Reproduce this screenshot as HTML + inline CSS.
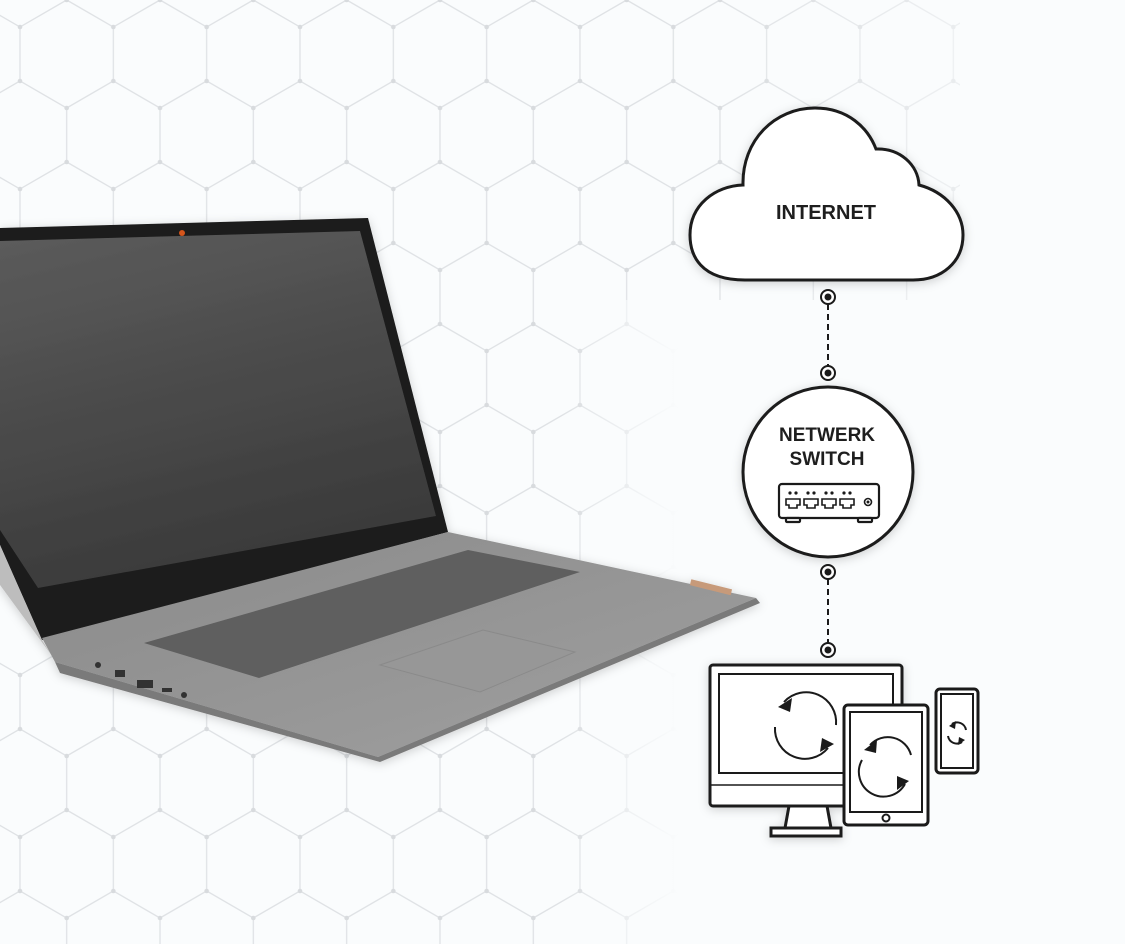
<!DOCTYPE html>
<html><head><meta charset="utf-8"><style>
html,body{margin:0;padding:0;background:#fafcfd;}
svg{display:block}
</style></head><body>
<svg width="1125" height="944" viewBox="0 0 1125 944" xmlns="http://www.w3.org/2000/svg">
<defs>
<pattern id="hex" x="20" y="27" width="93.33" height="162" patternUnits="userSpaceOnUse">
<g stroke="#dfe2e5" stroke-width="1.3" fill="none">
<path d="M0 0 L0 54 L46.67 81 L46.67 135 M46.67 81 L93.33 54 L93.33 0 M46.67 135 L0 162 M46.67 135 L93.33 162 M0 0 L46.67 -27 M93.33 0 L46.67 -27"/>
</g>
<g fill="#d8dbde"><circle cx="0" cy="0" r="2.3"/><circle cx="0" cy="54" r="2.3"/><circle cx="46.67" cy="81" r="2.3"/><circle cx="46.67" cy="135" r="2.3"/><circle cx="93.33" cy="0" r="2.3"/><circle cx="93.33" cy="54" r="2.3"/><circle cx="0" cy="162" r="2.3"/><circle cx="93.33" cy="162" r="2.3"/></g>
</pattern>
<linearGradient id="fadeR" x1="0" y1="0" x2="1" y2="0">
<stop offset="0" stop-color="#fafcfd" stop-opacity="0"/>
<stop offset="1" stop-color="#fafcfd" stop-opacity="1"/>
</linearGradient>
<linearGradient id="scr" x1="0" y1="0" x2="0.3" y2="1">
<stop offset="0" stop-color="#5c5c5c"/><stop offset="1" stop-color="#3a3a3a"/>
</linearGradient>
<linearGradient id="base" x1="0" y1="0" x2="1" y2="1">
<stop offset="0" stop-color="#8a8a8a"/><stop offset="1" stop-color="#a0a0a0"/>
</linearGradient>
<filter id="sh" x="-20%" y="-20%" width="140%" height="140%"><feDropShadow dx="0" dy="2" stdDeviation="5" flood-color="#000" flood-opacity="0.18"/></filter>
</defs>
<rect width="1125" height="944" fill="#fafcfd"/>
<rect width="1125" height="944" fill="url(#hex)"/>
<rect x="560" y="300" width="120" height="644" fill="url(#fadeR)"/>
<rect x="680" y="300" width="445" height="644" fill="#fafcfd"/>
<rect x="700" y="0" width="300" height="300" fill="url(#fadeR)" opacity="0.6"/>
<rect x="960" y="0" width="165" height="944" fill="#fafcfd"/>

<!-- laptop -->
<g filter="url(#sh)">
<polygon points="0,228 368,218 448,532 42,640 0,545" fill="#1a1a1a"/>
<polygon points="0,241 360,231 436,516 38,588 0,530" fill="url(#scr)"/>
<polygon points="0,545 42,640 52,656 0,585" fill="#bdbdbd"/>
<polygon points="42,638 448,532 756,598 378,757 55,662" fill="url(#base)"/>
<polygon points="55,662 378,757 756,598 760,603 380,762 60,673" fill="#7a7a7a"/>
<polygon points="144,643 468,550 580,572 259,678" fill="#5e5e5e"/>
<polygon points="380,665 483,630 575,652 480,692" fill="#979797" stroke="#8a8a8a"/>
<circle cx="182" cy="233" r="3" fill="#d4541a"/>
<rect x="115" y="670" width="10" height="7" fill="#333"/><rect x="137" y="680" width="16" height="8" fill="#333"/><rect x="162" y="688" width="10" height="4" fill="#333"/>
<circle cx="98" cy="665" r="3" fill="#333"/><circle cx="184" cy="695" r="3" fill="#333"/>
<rect x="690" y="584" width="42" height="6" fill="#c79a7a" transform="rotate(14 710 587)"/>
</g>

<!-- cloud -->
<g filter="url(#sh)">
<path d="M745 280 C700 280 690 255 690 235 C690 205 715 186 743 185 C742 140 775 108 815 108 C848 108 868 128 876 149 C900 148 918 165 919 185 C945 192 963 212 963 235 C963 262 942 280 913 280 Z" fill="#fff" stroke="#1a1a1a" stroke-width="3"/>
</g>
<text x="826" y="219" text-anchor="middle" font-family="Liberation Sans, sans-serif" font-weight="bold" font-size="20" fill="#1e1e1e">INTERNET</text>

<!-- connectors -->
<g stroke="#1a1a1a" stroke-width="2" fill="none">
<line x1="828" y1="304" x2="828" y2="366" stroke-dasharray="6 4"/>
<line x1="828" y1="579" x2="828" y2="643" stroke-dasharray="6 4"/>
<circle cx="828" cy="297" r="7" fill="#fff"/><circle cx="828" cy="373" r="7" fill="#fff"/>
<circle cx="828" cy="572" r="7" fill="#fff"/><circle cx="828" cy="650" r="7" fill="#fff"/>
</g>
<g fill="#1a1a1a"><circle cx="828" cy="297" r="3.5"/><circle cx="828" cy="373" r="3.5"/><circle cx="828" cy="572" r="3.5"/><circle cx="828" cy="650" r="3.5"/></g>

<!-- switch -->
<g filter="url(#sh)"><circle cx="828" cy="472" r="85" fill="#fff" stroke="#1a1a1a" stroke-width="3"/></g>
<text x="827" y="441" text-anchor="middle" font-family="Liberation Sans, sans-serif" font-weight="bold" font-size="19" fill="#1e1e1e">NETWERK</text>
<text x="827" y="465" text-anchor="middle" font-family="Liberation Sans, sans-serif" font-weight="bold" font-size="19" fill="#1e1e1e">SWITCH</text>
<g stroke="#1a1a1a" stroke-width="2.2" fill="#fff">
<rect x="779" y="484" width="100" height="34" rx="3"/>
<rect x="786" y="518" width="14" height="4" rx="1"/><rect x="858" y="518" width="14" height="4" rx="1"/>
</g>
<g stroke="#1a1a1a" stroke-width="1.6" fill="none">
<path d="M786 499 h14 v6 h-3 v3 h-8 v-3 h-3 z"/>
<path d="M804 499 h14 v6 h-3 v3 h-8 v-3 h-3 z"/>
<path d="M822 499 h14 v6 h-3 v3 h-8 v-3 h-3 z"/>
<path d="M840 499 h14 v6 h-3 v3 h-8 v-3 h-3 z"/>
<circle cx="868" cy="502" r="3.5"/>
</g>
<g fill="#1a1a1a"><circle cx="790" cy="493" r="1.6"/><circle cx="796" cy="493" r="1.6"/><circle cx="808" cy="493" r="1.6"/><circle cx="814" cy="493" r="1.6"/><circle cx="826" cy="493" r="1.6"/><circle cx="832" cy="493" r="1.6"/><circle cx="844" cy="493" r="1.6"/><circle cx="850" cy="493" r="1.6"/><circle cx="868" cy="502" r="1.5"/></g>

<!-- devices -->
<g stroke="#1a1a1a" stroke-width="3" fill="#fff" filter="url(#sh)">
<polygon points="789,806 827,806 831,828 785,828"/>
<rect x="771" y="828" width="70" height="8"/>
<rect x="710" y="665" width="192" height="141" rx="3"/>
</g>
<g stroke="#1a1a1a" fill="none">
<rect x="719" y="674" width="174" height="99" stroke-width="2"/>
<line x1="710" y1="785" x2="902" y2="785" stroke-width="1.5"/>
</g>
<g stroke="#1a1a1a" stroke-width="3" fill="#fff">
<rect x="844" y="705" width="84" height="120" rx="4"/>
<rect x="936" y="689" width="42" height="84" rx="4"/>
</g>
<g stroke="#1a1a1a" fill="none" stroke-width="2">
<rect x="850" y="712" width="72" height="100"/>
<circle cx="886" cy="818" r="3.5"/>
<rect x="941" y="694" width="32" height="74"/>
</g>
<g stroke="#1a1a1a" stroke-width="2" fill="none">
<path d="M836 725 A30 30 0 0 0 784 702"/>
<path d="M775 727 A30 30 0 0 0 828 748"/>
<path d="M911 755 A24 24 0 0 0 870 745"/>
<path d="M862 760 A24 24 0 0 0 905 784"/>
<path d="M966 730 A9 9 0 0 0 952 724"/>
<path d="M948 736 A9 9 0 0 0 962 742"/>
</g>
<g fill="#1a1a1a">
<polygon points="778,707 792,698 790,712"/>
<polygon points="834,744 820,752 822,738"/>
<polygon points="864,750 877,740 876,753"/>
<polygon points="909,781 897,790 897,776"/>
<polygon points="949,726 956,721 955,729"/>
<polygon points="965,740 958,745 959,737"/>
</g>
</svg>
</body></html>
